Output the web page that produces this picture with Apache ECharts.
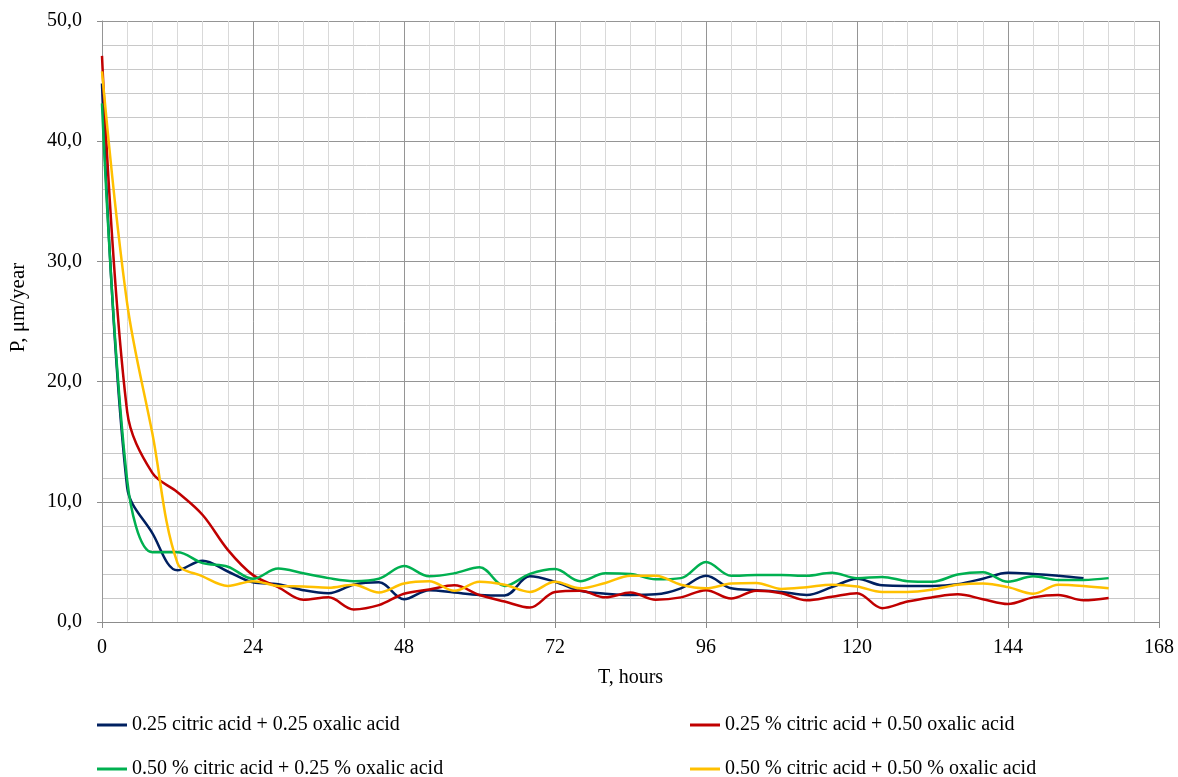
<!DOCTYPE html>
<html>
<head>
<meta charset="utf-8">
<script src="https://cdn.jsdelivr.net/npm/echarts@6/dist/echarts.min.js"></script>
<style>html,body{margin:0;padding:0;background:#fff}#c{width:1178px;height:777px}</style>
</head>
<body>
<div id="c"></div>
<script>
var hours = [0,4,8,12,16,20,24,28,32,36,40,44,48,52,56,60,64,68,72,76,80,84,88,92,96,100,104,108,112,116,120,124,128,132,136,140,144,148,152,156,160];
var seriesNames = [
  '0.25 citric acid + 0.25 oxalic acid',
  '0.25 % citric acid + 0.50 oxalic acid',
  '0.50 % citric acid + 0.25 % oxalic acid',
  '0.50 % citric acid + 0.50 % oxalic acid'
];
var blueVals = [44.8,11.2,7.4,4.3,5.1,4.2,3.3,3.15,2.65,2.4,3.1,3.3,1.9,2.65,2.45,2.25,2.2,3.8,3.35,2.6,2.35,2.25,2.3,2.8,3.85,2.8,2.65,2.5,2.25,2.9,3.6,3.05,3.0,3.0,3.15,3.6,4.1,4.0,3.85,3.65];
var redVals = [47.1,17.5,12.4,10.8,8.9,6.0,3.9,2.9,1.85,2.05,1.05,1.4,2.35,2.7,3.05,2.25,1.7,1.2,2.5,2.6,2.05,2.45,1.85,2.05,2.65,1.95,2.6,2.4,1.8,2.1,2.4,1.15,1.7,2.05,2.3,1.9,1.5,2.05,2.25,1.8,2.0];
var greenVals = [43.15,11.8,5.8,5.8,4.9,4.6,3.6,4.45,4.05,3.65,3.4,3.6,4.65,3.8,4.05,4.55,3.0,4.0,4.4,3.4,4.05,4.0,3.55,3.65,5.0,3.85,3.9,3.9,3.85,4.1,3.65,3.75,3.4,3.35,3.95,4.13,3.35,3.8,3.5,3.5,3.65];
var yellowVals = [45.8,26.5,15.7,4.9,3.8,3.0,3.4,3.0,2.95,2.85,3.1,2.45,3.2,3.4,2.6,3.35,3.1,2.5,3.35,2.8,3.25,3.85,3.85,3.1,2.8,3.2,3.25,2.75,2.9,3.1,2.95,2.5,2.5,2.7,3.1,3.2,2.9,2.35,3.1,3.0,2.8];
var colors = ['#002060','#C00000','#00B050','#FFC000'];
var xTicks = [0,24,48,72,96,120,144,168];
var yTicks = [0,10,20,30,40,50];

function pairs(vals){ return vals.map(function(v,i){ return [hours[i], v]; }); }
var allVals = [blueVals, redVals, greenVals, yellowVals];
var FONT = 'Liberation Serif';

var chart = echarts.init(document.getElementById('c'), null, {renderer:'canvas'});
var legendPos = [[97,715],[690,715],[97,759],[690,759]];
chart.setOption({
  animation: false,
  backgroundColor: '#fff',
  grid: {left:102, right:19, top:21, bottom:155, containLabel:false},
  legend: seriesNames.map(function(n,i){
    return {data:[n], left:legendPos[i][0], top:legendPos[i][1], padding:0, icon:'rect', itemWidth:30, itemHeight:3,
      textStyle:{fontFamily:FONT, fontSize:20, color:'#000'}};
  }),
  xAxis: [{
    type:'value', min:xTicks[0], max:xTicks[xTicks.length-1], interval:24, z:2,
    name:'T, hours', nameLocation:'middle', nameGap:46,
    nameTextStyle:{fontFamily:FONT, fontSize:20, color:'#000'},
    axisLine:{show:true, onZero:false, lineStyle:{color:'#8c8c8c', width:1}},
    axisTick:{show:true, inside:false, length:6, lineStyle:{color:'#8c8c8c'}},
    axisLabel:{fontFamily:FONT, fontSize:20, color:'#000', margin:16},
    splitLine:{show:true, lineStyle:{color:'#959595', width:1}},
    minorTick:{show:false, splitNumber:6},
    minorSplitLine:{show:true, lineStyle:{color:'#d9d9d9', width:1}}
  },{
    type:'value', min:0, max:168, interval:8, z:1, position:'bottom',
    axisLine:{show:false}, axisTick:{show:false}, axisLabel:{show:false},
    splitLine:{show:true, lineStyle:{color:'#c4c4c4', width:1}}
  }],
  yAxis: {
    type:'value', min:yTicks[0], max:yTicks[yTicks.length-1], interval:10,
    name:'P, μm/year', nameLocation:'middle', nameGap:73,
    nameTextStyle:{fontFamily:FONT, fontSize:21, color:'#000', padding:[0,0,0,28]},
    axisLine:{show:true, lineStyle:{color:'#8c8c8c', width:1}},
    axisTick:{show:true, inside:false, length:5, lineStyle:{color:'#8c8c8c'}},
    axisLabel:{fontFamily:FONT, fontSize:20, color:'#000', margin:20,
      formatter:function(v){ return v.toFixed(1).replace('.', ','); }},
    splitLine:{show:true, lineStyle:{color:'#959595', width:1}},
    minorTick:{show:false, splitNumber:5},
    minorSplitLine:{show:true, lineStyle:{color:'#c8c8c8', width:1}}
  },
  series: allVals.map(function(vals,i){
    return {name:seriesNames[i], type:'line', xAxisIndex:0, data:pairs(vals), smooth:0.35,
      symbol:'none', showSymbol:false, color:colors[i],
      lineStyle:{color:colors[i], width:2.5}, z:3+i};
  })
});
</script>
</body>
</html>
